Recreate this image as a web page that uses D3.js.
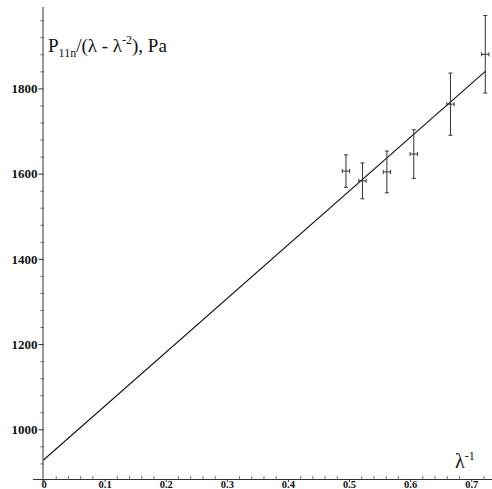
<!DOCTYPE html>
<html>
<head>
<meta charset="utf-8">
<script src="https://cdn.jsdelivr.net/npm/d3@7"></script>
<style>
  html, body { margin: 0; padding: 0; background: #fff; }
  svg { display: block; }
  svg text { font-family: "Liberation Serif", "Times New Roman", Times, "DejaVu Serif", serif; }
  .tick text { font-weight: bold; font-size: 13px; fill: #111; }
  .xax .tick text { font-size: 10.5px; }
</style>
</head>
<body>
<svg id="chart" width="492" height="489"></svg>
<script>
// ---- data ----
const xVals = [0.495, 0.522, 0.562, 0.606, 0.666, 0.723];
const yVals = [1606, 1583, 1604, 1646, 1763, 1880];
const yErr  = [38, 42, 49, 57, 73, 91];
const xErr  = [0.006, 0.006, 0.006, 0.006, 0.006, 0.006];
const fitX  = [0, 0.723];
const fitY  = [928, 1840];
const xTicks = [0, 0.1, 0.2, 0.3, 0.4, 0.5, 0.6, 0.7];
const yTicks = [1000, 1200, 1400, 1600, 1800];

const FONT = "'Liberation Serif', 'Times New Roman', Times, 'DejaVu Serif', serif";
const svg = d3.select("#chart");
const x = d3.scaleLinear().domain([-0.0172, 0.734]).range([33, 492]);
const y = d3.scaleLinear().domain([883.4, 1991]).range([479, 7]);

// x axis minor ticks (pointing up)
const xMinor = d3.range(0, 0.7301, 0.02).filter(v => xTicks.every(t => Math.abs(t - v) > 1e-6));
svg.append("g").attr("transform", `translate(0,${y(883.4)})`)
  .call(d3.axisBottom(x).tickValues(xMinor).tickSize(-3).tickFormat(""))
  .call(g => g.select(".domain").remove())
  .call(g => g.selectAll("line").attr("stroke", "#777"));
// x axis major
svg.append("g").attr("class", "xax").attr("transform", `translate(0,${y(883.4)})`)
  .call(d3.axisBottom(x).tickValues(xTicks).tickSize(3)
        .tickFormat(d => d === 0 ? "0" : d3.format(".1f")(d)))
  .call(g => g.attr("font-family", FONT))
  .call(g => g.select(".domain").attr("d", `M${x(-0.0172)},0.5H${x(0.734)}`).attr("stroke", "#333"))
  .call(g => g.selectAll(".tick line").attr("stroke", "#333"))
  .call(g => g.selectAll(".tick text").attr("y", 8.5).attr("dy", 0));

// y axis minor ticks
const yMinor = d3.range(920, 1991, 40).filter(v => yTicks.indexOf(v) < 0);
svg.append("g").attr("transform", `translate(${x(0)},0)`)
  .call(d3.axisLeft(y).tickValues(yMinor).tickSize(3).tickFormat(""))
  .call(g => g.select(".domain").remove())
  .call(g => g.selectAll("line").attr("stroke", "#666"));
// y axis major
svg.append("g").attr("transform", `translate(${x(0)},0)`)
  .call(d3.axisLeft(y).tickValues(yTicks).tickSize(5).tickPadding(1).tickFormat(d3.format("d")))
  .call(g => g.attr("font-family", FONT))
  .call(g => g.select(".domain").attr("d", `M-0.5,${y(1991)}V${y(883.4) + 3}`).attr("stroke", "#333"))
  .call(g => g.selectAll(".tick line").attr("stroke", "#333"));

// fit line
svg.append("path")
  .attr("d", d3.line().x((d, i) => x(fitX[i])).y(d => y(d))(fitY))
  .attr("fill", "none").attr("stroke", "#111").attr("stroke-width", 1.1);

// error bars
const pts = xVals.map((v, i) => ({ x: v, y: yVals[i], ey: yErr[i], ex: xErr[i] }));
const eb = svg.append("g").attr("stroke", "#333").attr("stroke-width", 1);
pts.forEach(p => {
  const cx = x(p.x), cy = y(p.y), t = y(p.y + p.ey), b = y(p.y - p.ey);
  const l = x(p.x - p.ex), r = x(p.x + p.ex);
  eb.append("line").attr("x1", cx).attr("x2", cx).attr("y1", t).attr("y2", b);
  eb.append("line").attr("x1", cx - 2).attr("x2", cx + 2).attr("y1", t).attr("y2", t);
  eb.append("line").attr("x1", cx - 2).attr("x2", cx + 2).attr("y1", b).attr("y2", b);
  eb.append("line").attr("x1", l).attr("x2", r).attr("y1", cy).attr("y2", cy);
  eb.append("line").attr("x1", l).attr("x2", l).attr("y1", cy - 2).attr("y2", cy + 2);
  eb.append("line").attr("x1", r).attr("x2", r).attr("y1", cy - 2).attr("y2", cy + 2);
});

// y title
const title = svg.append("text")
  .attr("x", 48).attr("y", 52)
  .attr("font-family", FONT)
  .attr("font-size", 19).attr("fill", "#111");
title.append("tspan").text("P");
title.append("tspan").attr("font-size", 12).attr("dy", 5).text("11n");
title.append("tspan").attr("dy", -5).text("/(λ - λ");
title.append("tspan").attr("font-size", 12).attr("dy", -8).text("-2");
title.append("tspan").attr("dy", 8).text("), Pa");

// x title
const xt = svg.append("text")
  .attr("x", 455).attr("y", 468)
  .attr("font-family", FONT)
  .attr("font-size", 20).attr("fill", "#111");
xt.append("tspan").text("λ");
xt.append("tspan").attr("font-size", 12).attr("dy", -8).text("-1");
</script>
</body>
</html>
